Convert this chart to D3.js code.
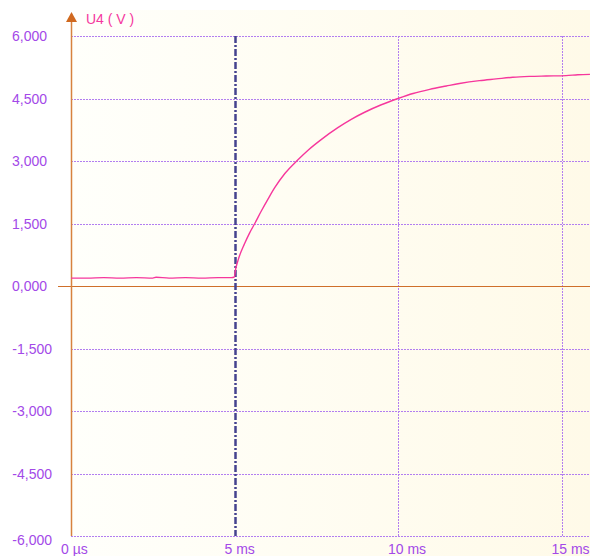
<!DOCTYPE html>
<html><head><meta charset="utf-8">
<script src="https://cdn.jsdelivr.net/npm/d3@7/dist/d3.min.js"></script>
<style>
html,body{margin:0;padding:0;background:#fff;}
svg{display:block;}
text{font-family:"Liberation Sans",Arial,sans-serif;}
</style></head><body>
<svg id="c" width="590" height="556"></svg>
<script>
// ---- data ----
const timeMs = [0, 0.5, 1.0, 1.5, 2.0, 2.5, 2.6, 3.0, 3.5, 4.0, 4.5, 4.9, 5.0, 5.02, 5.11, 5.31, 5.46, 5.62, 5.82, 6.02, 6.23, 6.54, 6.94, 7.25, 7.66, 8.16, 8.57, 8.98, 9.49, 10.0, 10.46, 10.97, 11.48, 11.88, 12.49, 13.0, 13.51, 14.02, 14.53, 15.14, 15.5, 15.87];
const voltage = [0.19, 0.19, 0.2, 0.19, 0.2, 0.19, 0.21, 0.19, 0.2, 0.19, 0.2, 0.2, 0.22, 0.34, 0.62, 1.02, 1.27, 1.50, 1.80, 2.08, 2.36, 2.70, 3.03, 3.26, 3.52, 3.80, 4.00, 4.17, 4.35, 4.50, 4.62, 4.72, 4.80, 4.86, 4.93, 4.97, 5.01, 5.03, 5.04, 5.05, 5.07, 5.08];
const yTicks = [6, 4.5, 3, 1.5, 0, -1.5, -3, -4.5, -6];
const yTickLabels = ["6,000", "4,500", "3,000", "1,500", "0,000", "-1,500", "-3,000", "-4,500", "-6,000"];
const xTicks = [0, 5, 10, 15];
const xTickLabels = ["0 µs", "5 ms", "10 ms", "15 ms"];
const markerMs = 5;
const seriesTitle = "U4 ( V )";

// ---- drawing ----
const svg = d3.select("#c");
const x = d3.scaleLinear().domain([0, 15]).range([71, 561.5]);
const y = d3.scaleLinear().domain([-6, 6]).range([536, 36]);

const defs = svg.append("defs");
const g = defs.append("linearGradient").attr("id", "bg").attr("x1", "0").attr("x2", "1").attr("y1", "0").attr("y2", "0");
g.append("stop").attr("offset", "0").attr("stop-color", "#fffffb");
g.append("stop").attr("offset", "1").attr("stop-color", "#fffae8");
svg.append("rect").attr("x", x(0)).attr("y", 10).attr("width", 590 - x(0)).attr("height", 546).attr("fill", "url(#bg)");

const gridColor = "#b27ef0";
// horizontal grid
svg.append("g").selectAll("line").data(yTicks.filter(d => d !== 0)).join("line")
  .attr("x1", x(0)).attr("x2", 590).attr("y1", d => Math.round(y(d)) + 0.5).attr("y2", d => Math.round(y(d)) + 0.5)
  .attr("stroke", gridColor).attr("stroke-width", 1).attr("stroke-dasharray", "2,1");
// vertical grid
svg.append("g").selectAll("line").data(xTicks.filter(d => d !== 0 && d !== markerMs)).join("line")
  .attr("x1", d => Math.round(x(d)) + 0.5).attr("x2", d => Math.round(x(d)) + 0.5).attr("y1", y(6)).attr("y2", y(-6))
  .attr("stroke", gridColor).attr("stroke-width", 1).attr("stroke-dasharray", "2,1");

// zero line and y axis
const axisColor = "#d7823e";
svg.append("line").attr("x1", 58).attr("x2", 590).attr("y1", Math.round(y(0)) + 0.5).attr("y2", Math.round(y(0)) + 0.5)
  .attr("stroke", "#cf6f2a").attr("stroke-width", 1.2);
svg.append("line").attr("x1", x(0) + 0.5).attr("x2", x(0) + 0.5).attr("y1", 20).attr("y2", y(-6))
  .attr("stroke", axisColor).attr("stroke-width", 1.5);
svg.append("path").attr("d", `M${x(0)+0.5},12 L${x(0)-5},22 L${x(0)+6},22 Z`).attr("fill", "#d0691e");

// marker line at 5 ms
svg.append("line").attr("x1", Math.round(x(markerMs)) + 0.5).attr("x2", Math.round(x(markerMs)) + 0.5)
  .attr("y1", y(6)).attr("y2", y(-6))
  .attr("stroke", "#45438f").attr("stroke-width", 2.5).attr("stroke-dasharray", "7,2,2,2");

// curve
const line = d3.line().x((d, i) => x(timeMs[i])).y(d => y(d)).curve(d3.curveMonotoneX);
svg.append("path").attr("d", line(voltage)).attr("fill", "none").attr("stroke", "#f6379c").attr("stroke-width", 1.4);

// labels
const labelColor = "#a349e8";
svg.append("g").selectAll("text").data(yTicks).join("text")
  .attr("x", d => d < 0 ? 52 : 47)
  .attr("y", d => y(d) + 5 + (d === -6 ? 4 : 0))
  .attr("text-anchor", "end").attr("font-size", 14).attr("fill", labelColor)
  .text((d, i) => yTickLabels[i]);
svg.append("g").selectAll("text").data(xTicks).join("text")
  .attr("x", d => x(d) - 10).attr("y", 554)
  .attr("font-size", 14).attr("fill", labelColor)
  .text((d, i) => xTickLabels[i]);
svg.append("text").attr("x", 86).attr("y", 24).attr("font-size", 14).attr("fill", "#f5389e").text(seriesTitle);
</script>
</body></html>
